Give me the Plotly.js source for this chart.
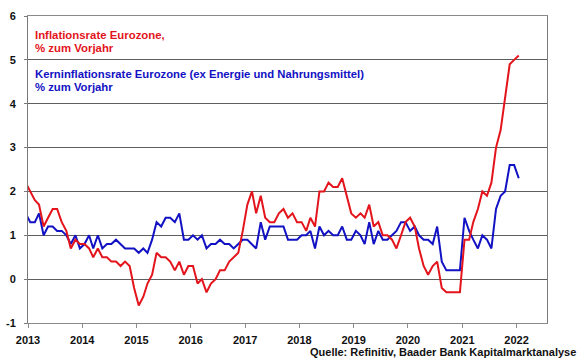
<!DOCTYPE html>
<html>
<head>
<meta charset="utf-8">
<script src="https://cdn.plot.ly/plotly-3.0.1.min.js"></script>
<style>
html,body{margin:0;padding:0;background:#fff;}
#chart{width:580px;height:359px;}
</style>
</head>
<body>
<div id="chart"></div>
<script>
// Monthly data, first value = Dec 2012, last value = Jan 2022
const startYear = 2012, startMonth = 12;

const headline = [
  2.2,
  2.0, 1.8, 1.7, 1.2, 1.4, 1.6, 1.6, 1.3, 1.1, 0.7, 0.9, 0.8,
  0.8, 0.7, 0.5, 0.7, 0.5, 0.5, 0.4, 0.4, 0.3, 0.4, 0.3, -0.2,
  -0.6, -0.4, -0.1, 0.1, 0.6, 0.5, 0.5, 0.4, 0.2, 0.4, 0.1, 0.3,
  0.3, -0.1, 0.0, -0.3, -0.1, 0.0, 0.2, 0.2, 0.4, 0.5, 0.6, 1.1,
  1.7, 2.0, 1.5, 1.9, 1.4, 1.3, 1.3, 1.5, 1.6, 1.4, 1.5, 1.3,
  1.3, 1.1, 1.4, 1.2, 2.0, 2.0, 2.2, 2.1, 2.1, 2.3, 1.9, 1.5,
  1.4, 1.5, 1.4, 1.7, 1.2, 1.3, 1.0, 1.0, 0.9, 0.7, 1.0, 1.3,
  1.4, 1.2, 0.7, 0.3, 0.1, 0.3, 0.4, -0.2, -0.3, -0.3, -0.3, -0.3,
  0.9, 0.9, 1.3, 1.6, 2.0, 1.9, 2.2, 3.0, 3.4, 4.1, 4.9, 5.0,
  5.1
];

const core = [
  1.5,
  1.3, 1.3, 1.5, 1.0, 1.2, 1.2, 1.1, 1.1, 1.0, 0.8, 1.0, 0.7,
  0.8, 1.0, 0.7, 1.0, 0.7, 0.8, 0.8, 0.9, 0.8, 0.7, 0.7, 0.7,
  0.6, 0.7, 0.6, 0.9, 1.3, 1.2, 1.4, 1.4, 1.3, 1.5, 0.9, 0.9,
  1.0, 0.9, 1.0, 0.7, 0.8, 0.8, 0.9, 0.8, 0.8, 0.7, 0.8, 0.9,
  0.9, 0.8, 0.7, 1.3, 0.9, 1.2, 1.2, 1.2, 1.2, 0.9, 0.9, 0.9,
  1.0, 1.0, 1.1, 0.7, 1.2, 1.0, 1.1, 1.0, 1.0, 1.2, 0.9, 0.9,
  1.1, 1.0, 0.8, 1.3, 0.8, 1.1, 0.9, 0.9, 1.0, 1.1, 1.3, 1.3,
  1.1, 1.2, 1.0, 0.9, 0.9, 0.8, 1.2, 0.4, 0.2, 0.2, 0.2, 0.2,
  1.4, 1.1, 0.9, 0.7, 1.0, 0.9, 0.7, 1.6, 1.9, 2.0, 2.6, 2.6,
  2.3
];

const yTicks = [-1, 0, 1, 2, 3, 4, 5, 6];
const labelHeadline = ["Inflationsrate Eurozone,", "% zum Vorjahr"];
const labelCore = ["Kerninflationsrate Eurozone (ex Energie und Nahrungsmittel)", "% zum Vorjahr"];
const sourceText = "Quelle: Refinitiv, Baader Bank Kapitalmarktanalyse";

function pad(n){ return (n < 10 ? "0" : "") + n; }
const months = headline.map((_, i) => {
  const m0 = (startMonth - 1) + i;
  const y = startYear + Math.floor(m0 / 12);
  const m = (m0 % 12) + 1;
  return y + "-" + pad(m) + "-16";
});

const RED = "#e3141c";
const BLUE = "#1212c4";
const FONT = "Liberation Sans, Arial, sans-serif";

const traces = [
  {x: months, y: core, type: "scatter", mode: "lines", line: {color: BLUE, width: 2}, hoverinfo: "skip"},
  {x: months, y: headline, type: "scatter", mode: "lines", line: {color: RED, width: 2}, hoverinfo: "skip"}
];

const layout = {
  width: 580, height: 359,
  margin: {l: 28, r: 33, t: 16, b: 36},
  paper_bgcolor: "#fff", plot_bgcolor: "#fff",
  showlegend: false,
  font: {family: FONT, size: 11, color: "#111"},
  xaxis: {
    type: "date",
    range: ["2013-01-01", "2022-07-25"],
    tick0: "2013-01-01", dtick: "M12", tickformat: "%Y",
    showgrid: false, zeroline: false,
    showline: true, linecolor: "#8a8a8a", linewidth: 1, mirror: true,
    ticks: "outside", ticklen: 4, tickcolor: "#8a8a8a",
    tickfont: {family: FONT, size: 11, color: "#111", weight: "bold"},
    ticklabelstandoff: 3
  },
  yaxis: {
    range: [-1, 6],
    tickvals: yTicks, ticktext: yTicks.map(String),
    showgrid: true, gridcolor: "#5e5e5e", gridwidth: 1,
    zeroline: false,
    showline: true, linecolor: "#7a7a7a", linewidth: 1, mirror: true,
    ticks: "outside", ticklen: 3, tickcolor: "#7a7a7a",
    tickfont: {family: FONT, size: 11, color: "#111", weight: "bold"},
    ticklabelstandoff: 6
  },
  annotations: [
    {xref: "paper", yref: "paper", x: 0.011, y: (359-16-35-6.5-323+16)/1, showarrow: false}
  ]
};

// build annotations in pixel terms converted to paper coordinates
const plotW = 580 - 28 - 33, plotH = 359 - 16 - 36;
function px(x){ return (x - 28) / plotW; }
function py(y){ return (359 - 36 - y) / plotH; }
function ann(text, xPix, yPix, color, size, anchor){
  return {xref: "paper", yref: "paper", x: px(xPix), y: py(yPix), xanchor: anchor || "left", yanchor: "middle",
    text: text, showarrow: false,
    font: {family: FONT, size: size, color: color, weight: "bold"}};
}
layout.annotations = [
  ann(labelHeadline[0], 33, 35, RED, 11.4),
  ann(labelHeadline[1], 33, 48, RED, 11.4),
  ann(labelCore[0], 33, 74, BLUE, 11.3),
  ann(labelCore[1], 33, 87, BLUE, 11.3),
  ann(sourceText, 578, 351.5, "#111", 11, "right")
];

Plotly.newPlot("chart", traces, layout, {staticPlot: true, displayModeBar: false});
</script>
</body>
</html>
